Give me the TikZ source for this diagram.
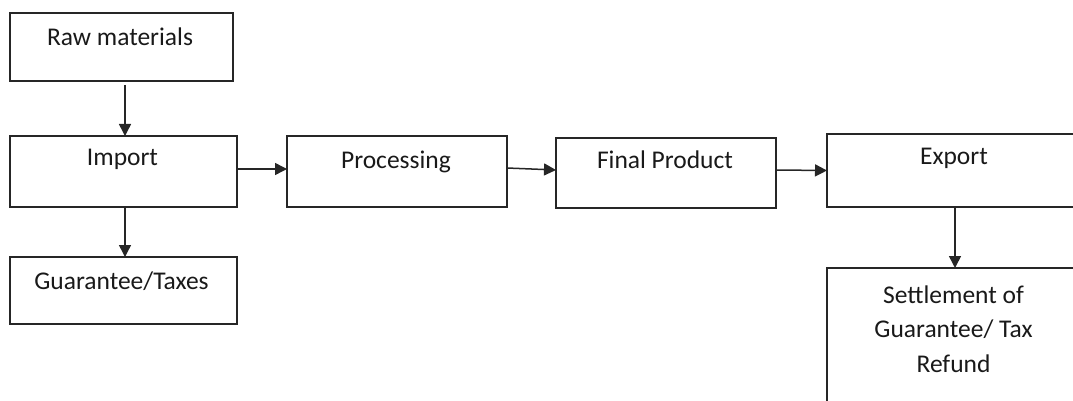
\documentclass[tikz,border=0pt]{standalone}
\usepackage{fontspec}
\setmainfont{Carlito}
\usetikzlibrary{arrows.meta}
\begin{document}
\begin{tikzpicture}[x=1pt,y=-1pt,
  box/.style={draw=black!85, line width=1.5pt, rectangle, inner sep=0pt, outer sep=0pt},
  lbl/.style={font=\fontsize{25.5}{34.5}\selectfont, anchor=base, align=center, inner sep=0pt, text=black!90},
  arr/.style={-{Triangle[length=12pt,width=12pt]}, line width=1.5pt, draw=black!85}]
\useasboundingbox (0,0) rectangle (1073,401);
\clip (0,0) rectangle (1073,401);
% boxes
\node[box, minimum width=223pt, minimum height=68pt] (raw) at (121.5,47) {};
\node[box, minimum width=227pt, minimum height=71pt] (imp) at (123.5,171.5) {};
\node[box, minimum width=227pt, minimum height=67pt] (gua) at (123.5,290.5) {};
\node[box, minimum width=220pt, minimum height=71pt] (proc) at (397,171.5) {};
\node[box, minimum width=220pt, minimum height=70pt] (fin) at (666,173) {};
\node[box, minimum width=256pt, minimum height=73pt] (exp) at (955,170.5) {};
\node[box, minimum width=256pt, minimum height=172pt] (set) at (955,354) {};
% labels
\node[lbl] (rawt) at (120,45.5) {Raw materials};
\node[lbl] (impt) at (122.5,165.5) {Import};
\node[lbl] (guat) at (121.5,289.5) {Guarantee/Taxes};
\node[lbl] (proct) at (396,168) {Processing};
\node[lbl] (fint) at (665,168.5) {Final Product};
\node[lbl] (expt) at (954,164.5) {Export};
\node[lbl] (sett) at (953.5,372) {Settlement of\\Guarantee/ Tax\\Refund};
% connectors
\draw[arr] ([xshift=3.5pt,yshift=-4pt]raw.south) -- ([xshift=1.5pt]imp.north);
\draw[arr] ([xshift=1.5pt]imp.south) -- ([xshift=1.5pt]gua.north);
\draw[arr] ([yshift=2.5pt]imp.east) -- ([yshift=2.5pt]proc.west);
\draw[arr] ([yshift=3.5pt]proc.east) -- ([yshift=3pt]fin.west);
\draw[arr] ([yshift=3pt]fin.east) -- (exp.west);
\draw[arr] (exp.south) -- (set.north);
\end{tikzpicture}
\end{document}
